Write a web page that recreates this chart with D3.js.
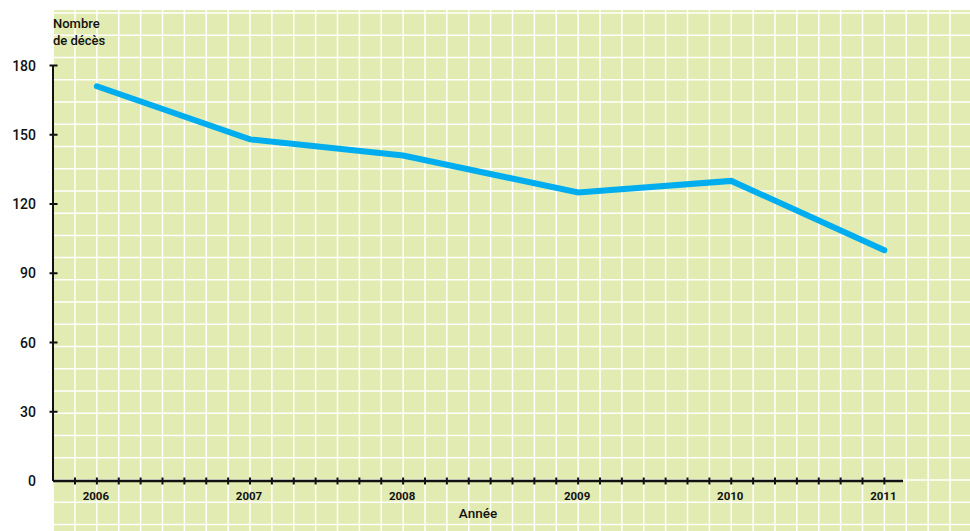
<!DOCTYPE html>
<meta charset="utf-8">
<style>
body { margin: 0; background: #fff; }
svg text {
  font-family: Roboto, "Liberation Sans", sans-serif;
  fill: #111;
}
.ylab { font-size: 14px; font-weight: 500; }
.xlab { font-size: 11.5px; font-weight: bold; }
.title { font-size: 13px; font-weight: 500; }
</style>

<svg width="970" height="531"></svg>

<script src="https://d3js.org/d3.v7.min.js"></script>
<script>

// Data
var years = [2006, 2007, 2008, 2009, 2010, 2011];
var deaths = [171, 148, 141, 125, 130, 100];
var yTicks = [0, 30, 60, 90, 120, 150, 180];

// position of each year on the minor tick grid (the 2008-2009 gap is one step wider)
var yearSlot = [1, 8, 15, 23, 30, 37];

var svg = d3.select("svg");

// decorative grid
var gx = d3.scaleLinear().domain([0, 40]).range([75, 950]);
var gy = d3.scaleLinear().domain([0, 21]).range([13, 480]);

svg.append("rect")
    .attr("x", 53).attr("y", 10)
    .attr("width", 917).attr("height", 521)
    .attr("fill", "#e2ebb1");

svg.append("g")
  .selectAll("line")
  .data(d3.range(-1, 41))
  .join("line")
    .attr("x1", d => gx(d)).attr("x2", d => gx(d))
    .attr("y1", 10).attr("y2", 531)
    .attr("stroke", "#fff").attr("stroke-width", 1.5);

svg.append("g")
  .selectAll("line")
  .data(d3.range(0, 24))
  .join("line")
    .attr("x1", 53).attr("x2", 970)
    .attr("y1", d => gy(d)).attr("y2", d => gy(d))
    .attr("stroke", "#fff").attr("stroke-width", 1.5);

// Scales
var x = d3.scaleLinear()
    .domain(years)
    .range(yearSlot.map(gx));

var y = d3.scaleLinear()
    .domain([0, 180])
    .range([481, 65.5]);

// Y axis
svg.append("line")
    .attr("x1", 53).attr("x2", 53)
    .attr("y1", y(180)).attr("y2", y(0))
    .attr("stroke", "#111").attr("stroke-width", 2);

svg.append("g")
  .selectAll("line")
  .data(yTicks.filter(d => d > 0))
  .join("line")
    .attr("x1", 49.5).attr("x2", 57.5)
    .attr("y1", d => y(d)).attr("y2", d => y(d))
    .attr("stroke", "#111").attr("stroke-width", 2);

svg.append("g")
  .selectAll("text")
  .data(yTicks)
  .join("text")
    .attr("class", "ylab")
    .attr("x", 36)
    .attr("y", d => y(d))
    .attr("dy", "0.36em")
    .attr("text-anchor", "end")
    .text(d => d);

svg.append("text")
    .attr("class", "title")
    .attr("x", 53).attr("y", 28)
    .text("Nombre");
svg.append("text")
    .attr("class", "title")
    .attr("x", 53).attr("y", 45)
    .text("de décès");

// X axis
svg.append("line")
    .attr("x1", 53).attr("x2", 903)
    .attr("y1", y(0)).attr("y2", y(0))
    .attr("stroke", "#111").attr("stroke-width", 2.5);

svg.append("g")
  .selectAll("line")
  .data(d3.range(0, 38))
  .join("line")
    .attr("x1", d => gx(d)).attr("x2", d => gx(d))
    .attr("y1", y(0) - 3.5).attr("y2", y(0) + 3.5)
    .attr("stroke", "#111").attr("stroke-width", 2);

svg.append("g")
  .selectAll("text")
  .data(years)
  .join("text")
    .attr("class", "xlab")
    .attr("x", d => x(d) - 1)
    .attr("y", 500)
    .attr("text-anchor", "middle")
    .text(d => d);

svg.append("text")
    .attr("class", "title")
    .attr("x", 478).attr("y", 518)
    .attr("text-anchor", "middle")
    .style("font-size", "13.5px")
    .text("Année");

// Line
var line = d3.line()
    .x((d, i) => x(years[i]))
    .y(d => y(d));

svg.append("path")
    .datum(deaths)
    .attr("d", line)
    .attr("fill", "none")
    .attr("stroke", "#00aeef")
    .attr("stroke-width", 6)
    .attr("stroke-linecap", "round")
    .attr("stroke-linejoin", "miter");

</script>
